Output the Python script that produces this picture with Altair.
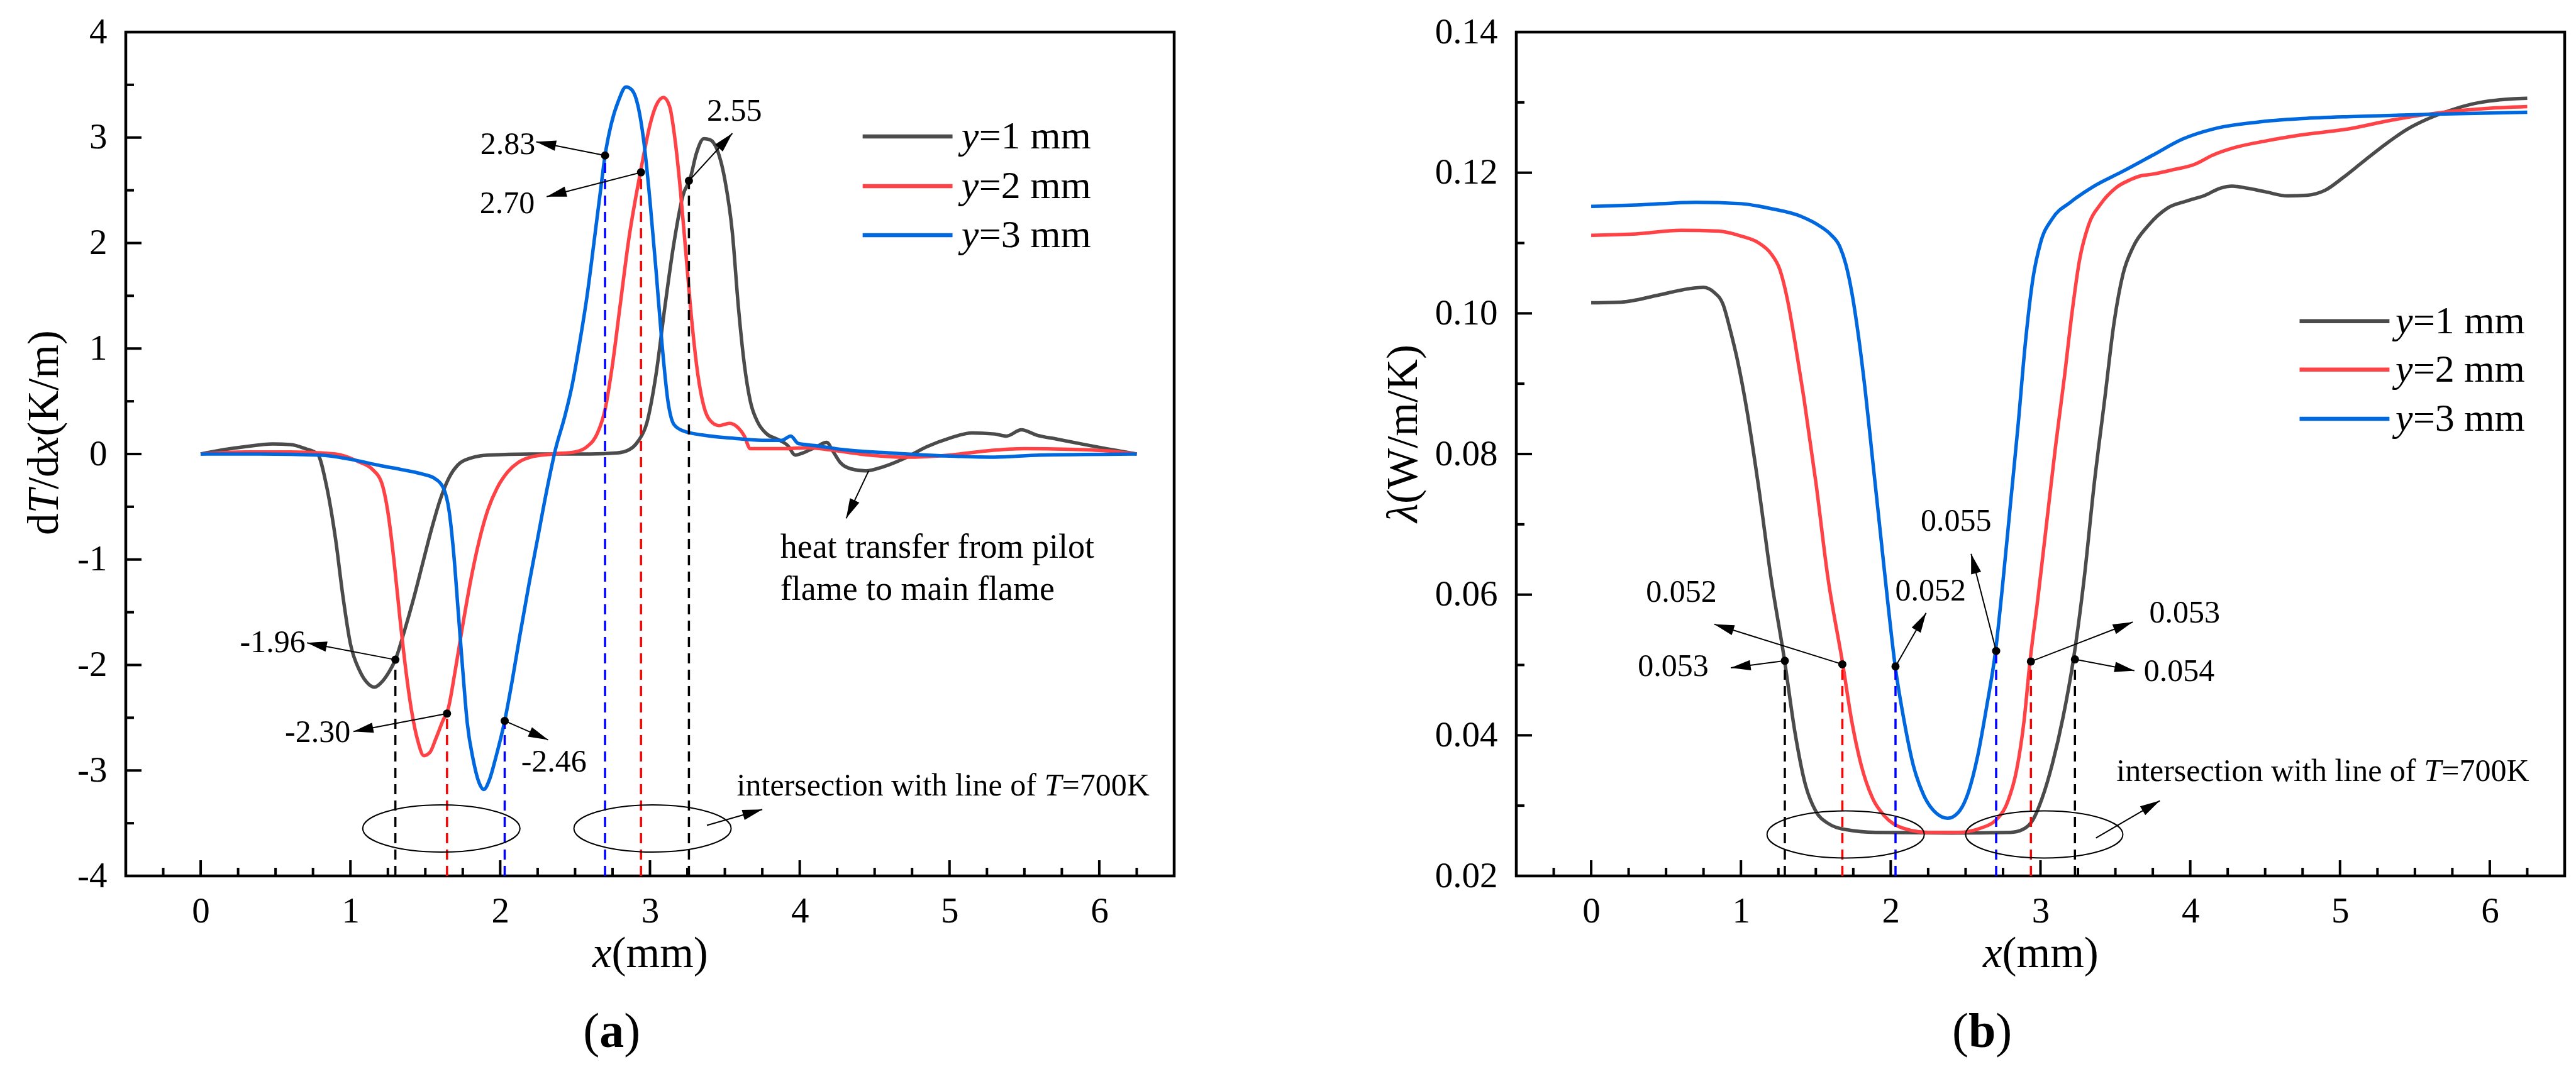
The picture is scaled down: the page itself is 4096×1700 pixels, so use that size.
import math

import altair as alt
import pandas as pd


FONT = "Liberation Serif"
W, H = 1667, 1342  # plot area of one panel, px
SERIES = ["y=1 mm", "y=2 mm", "y=3 mm"]
LINE_COLORS = ["#4B4B4B", "#FF4246", "#0068DE"]
DASH_COLORS = ["#000000", "#FF0000", "#0000FF"]
ARROW_HEAD = "M0,0L0.52,2L-0.52,2Z"
RING = ("M-1,0C-1,-0.166,-0.552,-0.3,0,-0.3C0.552,-0.3,1,-0.166,1,0"
        "C1,0.166,0.552,0.3,0,0.3C-0.552,0.3,-1,0.166,-1,0Z")

X_DOMAIN = [-0.5, 6.5]
X_MAJOR = [0, 1, 2, 3, 4, 5, 6]
X_MINOR = [q / 4 for q in range(-1, 26) if q % 4]

# ---- (a) temperature gradient dT/dx ----
A_X1 = [0.00, 0.15, 0.30, 0.48, 0.60, 0.70, 0.78, 0.84, 0.90, 0.95, 1.00, 1.06, 1.12, 1.16,
        1.21, 1.26, 1.30, 1.36, 1.42, 1.48, 1.54, 1.60, 1.66, 1.72, 1.80, 1.92, 2.20, 2.60,
        2.78, 2.86, 2.92, 2.98, 3.04, 3.10, 3.16, 3.22, 3.27, 3.31, 3.36, 3.40, 3.45, 3.50,
        3.55, 3.59, 3.63, 3.67, 3.72, 3.78, 3.85, 3.92, 3.97, 4.02, 4.10, 4.18, 4.22, 4.27,
        4.34, 4.44, 4.56, 4.70, 4.85, 5.00, 5.15, 5.30, 5.38, 5.48, 5.58, 5.72, 5.90, 6.05, 6.25]
A_Y1 = [0.00, 0.04, 0.07, 0.095, 0.09, 0.05, 0.00, -0.30, -0.80, -1.35, -1.80, -2.05, -2.18, -2.21,
        -2.16, -2.06, -1.95, -1.68, -1.38, -1.05, -0.72, -0.43, -0.22, -0.10, -0.04, -0.01, 0.00, 0.00,
        0.01, 0.04, 0.12, 0.30, 0.75, 1.40, 2.00, 2.45, 2.62, 2.85, 2.99, 2.98, 2.88, 2.60,
        2.10, 1.40, 0.85, 0.50, 0.30, 0.19, 0.14, 0.08, -0.01, 0.01, 0.06, 0.11, 0.03, -0.08,
        -0.14, -0.16, -0.12, -0.04, 0.07, 0.15, 0.20, 0.19, 0.17, 0.23, 0.18, 0.14, 0.09, 0.05, 0.00]
A_X2 = [0.00, 0.30, 0.60, 0.90, 1.05, 1.15, 1.21, 1.25, 1.29, 1.33, 1.37, 1.41, 1.45, 1.49,
        1.53, 1.57, 1.62, 1.65, 1.70, 1.75, 1.80, 1.86, 1.92, 1.98, 2.05, 2.12, 2.20, 2.35,
        2.50, 2.58, 2.65, 2.70, 2.75, 2.80, 2.86, 2.92, 2.96, 3.00, 3.04, 3.09, 3.13, 3.17,
        3.20, 3.24, 3.28, 3.32, 3.36, 3.40, 3.46, 3.53, 3.58, 3.63, 3.67, 3.75, 3.90, 4.05,
        4.20, 4.40, 4.70, 5.00, 5.25, 5.50, 5.80, 6.05, 6.25]
A_Y2 = [0.00, 0.02, 0.02, 0.00, -0.07, -0.15, -0.28, -0.55, -1.00, -1.55, -2.05, -2.45, -2.72, -2.86,
        -2.83, -2.70, -2.52, -2.43, -2.05, -1.62, -1.22, -0.82, -0.52, -0.32, -0.17, -0.08, -0.03, 0.00,
        0.02, 0.07, 0.20, 0.42, 0.85, 1.40, 2.05, 2.55, 2.85, 3.12, 3.30, 3.38, 3.30, 2.95,
        2.55, 1.90, 1.25, 0.75, 0.45, 0.32, 0.27, 0.29, 0.26, 0.17, 0.05, 0.05, 0.05, 0.06,
        0.04, 0.00, -0.03, -0.01, 0.03, 0.05, 0.045, 0.03, 0.00]
A_X3 = [0.00, 0.40, 0.80, 1.00, 1.20, 1.35, 1.48, 1.56, 1.62, 1.66, 1.69, 1.72, 1.75, 1.78,
        1.82, 1.86, 1.89, 1.93, 1.97, 2.03, 2.08, 2.13, 2.19, 2.25, 2.31, 2.37, 2.43, 2.48,
        2.53, 2.58, 2.63, 2.67, 2.70, 2.74, 2.79, 2.84, 2.88, 2.92, 2.96, 3.00, 3.04, 3.08,
        3.12, 3.16, 3.22, 3.35, 3.55, 3.75, 3.88, 3.94, 3.99, 4.10, 4.30, 4.60, 5.00, 5.30,
        5.60, 6.25]
A_Y3 = [0.00, 0.00, -0.01, -0.05, -0.11, -0.15, -0.19, -0.23, -0.32, -0.55, -0.95, -1.50, -2.05, -2.55,
        -2.90, -3.12, -3.18, -3.08, -2.88, -2.53, -2.15, -1.73, -1.25, -0.80, -0.35, 0.05, 0.35, 0.65,
        1.05, 1.50, 2.05, 2.50, 2.83, 3.12, 3.35, 3.48, 3.45, 3.30, 2.95, 2.40, 1.75, 1.05,
        0.50, 0.28, 0.22, 0.18, 0.15, 0.13, 0.13, 0.17, 0.10, 0.08, 0.04, 0.01, -0.02, -0.03,
        -0.01, 0.00]
A_Y_DOMAIN = [-4, 4]
A_Y_MAJOR = list(range(-4, 5))
A_Y_MINOR = [v + 0.5 for v in range(-4, 4)]

# intersections with the T=700K line (x, y, series index, printed value)
A_CUT_X = [1.30, 1.645, 2.03, 2.70, 2.94, 3.26]
A_CUT_Y = [-1.95, -2.46, -2.53, 2.83, 2.67, 2.59]
A_CUT_S = [0, 1, 2, 2, 1, 0]
A_CUT_LABEL = ["-1.96", "-2.30", "-2.46", "2.83", "2.70", "2.55"]

# ---- (b) thermal conductivity lambda ----
B_X1 = [0.00, 0.20, 0.45, 0.65, 0.75, 0.82, 0.88, 0.93, 0.98, 1.04, 1.12, 1.20, 1.29, 1.36,
        1.43, 1.50, 1.58, 1.70, 1.90, 2.40, 2.80, 2.88, 2.95, 3.01, 3.08, 3.15, 3.22, 3.29,
        3.36, 3.43, 3.49, 3.55, 3.62, 3.72, 3.85, 3.98, 4.10, 4.20, 4.28, 4.38, 4.50, 4.65,
        4.78, 4.90, 5.02, 5.15, 5.30, 5.45, 5.57, 5.70, 5.85, 6.00, 6.15, 6.25]
B_Y1 = [0.1015, 0.1016, 0.1026, 0.1035, 0.1037, 0.1030, 0.1013, 0.0975, 0.0930, 0.0862, 0.0750,
        0.0625, 0.0508, 0.0405, 0.0330, 0.0292, 0.0275, 0.0266, 0.0262, 0.0261, 0.0262, 0.0266,
        0.0280, 0.0310, 0.0360, 0.0425, 0.0508, 0.0620, 0.0760, 0.0880, 0.0985, 0.1055, 0.1095,
        0.1125, 0.1150, 0.1160, 0.1168, 0.1178, 0.1181, 0.1178, 0.1173, 0.1167, 0.1168, 0.1175,
        0.1193, 0.1215, 0.1240, 0.1262, 0.1275, 0.1286, 0.1296, 0.1302, 0.1305, 0.1306]
B_X2 = [0.00, 0.30, 0.60, 0.85, 1.00, 1.12, 1.20, 1.26, 1.31, 1.36, 1.42, 1.50, 1.58, 1.68,
        1.74, 1.80, 1.88, 1.96, 2.08, 2.25, 2.45, 2.60, 2.70, 2.78, 2.84, 2.89, 2.93, 2.98,
        3.04, 3.10, 3.16, 3.21, 3.26, 3.32, 3.40, 3.50, 3.60, 3.66, 3.75, 3.88, 4.03, 4.15,
        4.30, 4.50, 4.75, 5.05, 5.35, 5.65, 5.95, 6.25]
B_Y2 = [0.1111, 0.1113, 0.1118, 0.1117, 0.1110, 0.1100, 0.1085, 0.1062, 0.1020, 0.0960, 0.0880,
        0.0760, 0.0625, 0.0501, 0.0420, 0.0360, 0.0310, 0.0285, 0.0268, 0.0262, 0.0262, 0.0268,
        0.0279, 0.0305, 0.0350, 0.0420, 0.0505, 0.0590, 0.0700, 0.0810, 0.0910, 0.1000, 0.1075,
        0.1125, 0.1155, 0.1178, 0.1190, 0.1195, 0.1198, 0.1204, 0.1212, 0.1225, 0.1236, 0.1245,
        0.1254, 0.1262, 0.1275, 0.1285, 0.1291, 0.1294]
B_X3 = [0.00, 0.30, 0.70, 1.00, 1.20, 1.40, 1.52, 1.60, 1.66, 1.70, 1.74, 1.78, 1.83, 1.88,
        1.93, 1.98, 2.03, 2.09, 2.15, 2.22, 2.30, 2.38, 2.45, 2.52, 2.58, 2.64, 2.70, 2.75,
        2.80, 2.85, 2.90, 2.95, 3.00, 3.08, 3.20, 3.35, 3.55, 3.75, 3.95, 4.15, 4.45, 4.75,
        5.10, 5.60, 6.25]
B_Y3 = [0.1152, 0.1154, 0.1158, 0.1156, 0.1149, 0.1138, 0.1125, 0.1112, 0.1095, 0.1070, 0.1030,
        0.0975, 0.0890, 0.0790, 0.0690, 0.0590, 0.0498, 0.0420, 0.0358, 0.0315, 0.0290, 0.0282,
        0.0290, 0.0320, 0.0370, 0.0440, 0.0520, 0.0620, 0.0730, 0.0840, 0.0960, 0.1050, 0.1100,
        0.1135, 0.1158, 0.1180, 0.1202, 0.1225, 0.1248, 0.1262, 0.1272, 0.1277, 0.1280, 0.1283,
        0.1286]
B_Y_DOMAIN = [0.02, 0.14]
B_Y_MAJOR = [0.02, 0.04, 0.06, 0.08, 0.10, 0.12, 0.14]
B_Y_MINOR = [0.03, 0.05, 0.07, 0.09, 0.11, 0.13]

B_CUT_X = [1.293, 1.677, 2.032, 2.704, 2.936, 3.23]
B_CUT_Y = [0.0506, 0.0501, 0.0498, 0.0520, 0.0505, 0.0508]
B_CUT_S = [0, 1, 2, 2, 1, 0]
B_CUT_LABEL = ["0.053", "0.052", "0.052", "0.055", "0.053", "0.054"]


def word(t, x, y, size, **style):
    return {"t": t, "x": x, "y": y, "size": size, **style}


# annotation layout, in data units of each panel
A_NOTES = [(0.70, -1.79, "right"), (1.00, -2.64, "right"), (2.14, -2.92, "left"),
           (2.235, 2.93, "right"), (2.23, 2.37, "right"), (3.38, 3.25, "left")]
A_TIPS = [(0.71, -1.79), (1.02, -2.63), (2.32, -2.71), (2.24, 2.96), (2.31, 2.44), (3.55, 3.04)]
A_ARROWS = [(4.46, -0.16, 4.31, -0.61), (3.38, -3.52, 3.75, -3.37)]
A_RINGS = [(1.607, -3.55), (3.017, -3.55)]
A_LEGEND = (4.42, 5.02, 5.08, [3.01, 2.54, 2.075])
A_WORDS = [
    word("d", -0.9535, -0.769, 69, angle=270, baseline="alphabetic"),
    word("T", -0.9535, -0.769, 69, angle=270, baseline="alphabetic", dx=34.5, fontStyle="italic"),
    word("/d", -0.9535, -0.769, 69, angle=270, baseline="alphabetic", dx=72.9),
    word("x", -0.9535, -0.769, 69, angle=270, baseline="alphabetic", dx=126.6, fontStyle="italic"),
    word("(K/m)", -0.9535, -0.769, 69, angle=270, baseline="alphabetic", dx=157.2),
    word("x", 2.744, -4.864, 69, align="right", baseline="alphabetic", fontStyle="italic"),
    word("(mm)", 2.744, -4.864, 69, baseline="alphabetic"),
    word("(", 2.745, -5.621, 78, align="right", baseline="alphabetic", dx=-19.5),
    word("a", 2.745, -5.621, 78, align="center", baseline="alphabetic", fontWeight="bold"),
    word(")", 2.745, -5.621, 78, baseline="alphabetic", dx=19.5),
    word("heat transfer from pilot", 3.87, -0.886, 54),
    word("flame to main flame", 3.87, -1.29, 54),
    word("intersection with line of", 3.58, -3.15, 50),
    word("T", 3.58, -3.15, 50, dx=489, fontStyle="italic"),
    word("=700K", 3.58, -3.15, 50, dx=517),
]

B_NOTES = [(0.784, 0.0498, "right"), (0.838, 0.0603, "right"), (2.03, 0.0605, "left"),
           (2.20, 0.0704, "left"), (3.726, 0.0574, "left"), (3.69, 0.0491, "left")]
B_TIPS = [(0.932, 0.0496), (0.822, 0.0558), (2.236, 0.0574), (2.537, 0.0658),
          (3.616, 0.0561), (3.627, 0.0492)]
B_ARROWS = [(3.37, 0.0254, 3.797, 0.0307)]
B_RINGS = [(1.699, 0.0259), (3.025, 0.0259)]
B_LEGEND = (4.73, 5.33, 5.37, [0.0989, 0.0920, 0.0850])
B_WORDS = [
    word("λ", -1.1635, 0.07294, 69, angle=270, align="right", baseline="alphabetic",
         fontStyle="italic"),
    word("(W/m/K)", -1.1635, 0.07294, 69, angle=270, baseline="alphabetic"),
    word("x", 2.744, 0.00703, 69, align="right", baseline="alphabetic", fontStyle="italic"),
    word("(mm)", 2.744, 0.00703, 69, baseline="alphabetic"),
    word("(", 2.61, -0.00432, 78, align="right", baseline="alphabetic", dx=-21.7),
    word("b", 2.61, -0.00432, 78, align="center", baseline="alphabetic", fontWeight="bold"),
    word(")", 2.61, -0.00432, 78, baseline="alphabetic", dx=21.7),
    word("intersection with line of", 3.507, 0.0348, 50),
    word("T", 3.507, 0.0348, 50, dx=489, fontStyle="italic"),
    word("=700K", 3.507, 0.0348, 50, dx=517),
]


def panel(curves, ydom, ymajor, yminor, ylabels, cut, notes, tips, arrows, rings, legend, words):
    xs = alt.Scale(domain=X_DOMAIN, nice=False, zero=False)
    ys = alt.Scale(domain=ydom, nice=False, zero=False)
    colors = alt.Scale(domain=SERIES, range=LINE_COLORS)
    kx = W / (X_DOMAIN[1] - X_DOMAIN[0])
    ky = H / (ydom[1] - ydom[0])

    label_style = dict(domain=False, ticks=False, tickSize=0, grid=False, labelFont=FONT,
                       labelFontSize=57, labelColor="black", labelFlush=False, title=None)
    x_axis = alt.Axis(orient="bottom", values=X_MAJOR, labelPadding=28, **label_style)
    y_axis = alt.Axis(orient="left", values=ymajor, labelPadding=30, **ylabels, **label_style)

    # every layer carries the same axis so that the shared axis merges cleanly
    def px(f):
        return alt.X(f"{f}:Q", scale=xs, axis=x_axis)

    def py(f):
        return alt.Y(f"{f}:Q", scale=ys, axis=y_axis)

    df = pd.concat([pd.DataFrame({"x": cx, "y": cy, "s": name})
                    for (cx, cy), name in zip(curves, SERIES)])
    lines = alt.Chart(df).mark_line(strokeWidth=5.5, interpolate="monotone").encode(
        x=px("x"), y=py("y"), color=alt.Color("s:N", scale=colors, legend=None))

    # inward ticks on the bottom and left edges of the frame
    ticks = []
    for vals, length in ((X_MAJOR, 25), (X_MINOR, 13)):
        t = pd.DataFrame({"t": vals, "edge": ydom[0]})
        ticks.append(alt.Chart(t).mark_rule(color="black", strokeWidth=4, y2Offset=-length)
                     .encode(x=px("t"), y=py("edge"), y2="edge:Q"))
    for vals, length in ((ymajor, 25), (yminor, 13)):
        t = pd.DataFrame({"t": vals, "edge": X_DOMAIN[0]})
        ticks.append(alt.Chart(t).mark_rule(color="black", strokeWidth=4, x2Offset=length)
                     .encode(y=py("t"), x=px("edge"), x2="edge:Q"))

    cx, cy, cs, clab = cut
    cuts = pd.DataFrame({"x": cx, "y": cy, "s": cs, "y0": ydom[0]})
    dashes = [
        alt.Chart(cuts[cuts["s"] == i]).mark_rule(strokeWidth=3.5, strokeDash=[16, 10],
                                                  color=DASH_COLORS[i])
        .encode(x=px("x"), y=py("y0"), y2="y:Q")
        for i in range(len(SERIES))
    ]
    dots = alt.Chart(cuts).mark_point(filled=True, size=169, color="black", opacity=1).encode(
        x=px("x"), y=py("y"))

    arr = pd.DataFrame(
        [(x, y, tx, ty) for x, y, (tx, ty) in zip(cx, cy, tips)] + list(arrows),
        columns=["xf", "yf", "xt", "yt"])
    arr["ang"] = [(math.degrees(math.atan2((r.xt - r.xf) * kx, (r.yt - r.yf) * ky)) + 360) % 360
                  for r in arr.itertuples()]
    shafts = alt.Chart(arr).mark_rule(strokeWidth=2, color="black").encode(
        x=px("xf"), y=py("yf"), x2="xt:Q", y2="yt:Q")
    heads = alt.Chart(arr).mark_point(shape=ARROW_HEAD, size=1000, filled=True, color="black",
                                      opacity=1).encode(
        x=px("xt"), y=py("yt"), angle=alt.Angle("ang:Q", scale=None))

    ellipses = alt.Chart(pd.DataFrame(rings, columns=["x", "y"])).mark_point(
        shape=RING, size=62500, filled=False, color="black", strokeWidth=2, opacity=1
    ).encode(x=px("x"), y=py("y"))

    lx1, lx2, ltx, lys = legend
    leg = pd.DataFrame({"x": lx1, "x2": lx2, "tx": ltx, "y": lys, "s": SERIES,
                        "v": [s[0] for s in SERIES], "rest": [s[1:] for s in SERIES]})
    leg_lines = alt.Chart(leg).mark_rule(strokeWidth=6.5).encode(
        x=px("x"), x2="x2:Q", y=py("y"), color=alt.Color("s:N", scale=colors, legend=None))
    leg_var = alt.Chart(leg).mark_text(font=FONT, fontSize=62, fontStyle="italic", align="left",
                                       baseline="middle", color="black").encode(
        x=px("tx"), y=py("y"), text="v:N")
    leg_rest = alt.Chart(leg).mark_text(font=FONT, fontSize=62, align="left", dx=28,
                                        baseline="middle", color="black").encode(
        x=px("tx"), y=py("y"), text="rest:N")

    note_words = [word(t, x, y, 50, align=a) for t, (x, y, a) in zip(clab, notes)]
    texts = []
    for w in note_words + words:
        style = {k: v for k, v in w.items() if k not in ("t", "x", "y", "size")}
        style.setdefault("align", "left")
        style.setdefault("baseline", "middle")
        one = pd.DataFrame({"x": [w["x"]], "y": [w["y"]], "t": [w["t"]]})
        texts.append(alt.Chart(one).mark_text(font=FONT, fontSize=w["size"], color="black",
                                              **style).encode(x=px("x"), y=py("y"), text="t:N"))

    return alt.layer(lines, *ticks, *dashes, dots, shafts, heads, ellipses,
                     leg_lines, leg_var, leg_rest, *texts).properties(width=W, height=H)


left = panel([(A_X1, A_Y1), (A_X2, A_Y2), (A_X3, A_Y3)], A_Y_DOMAIN, A_Y_MAJOR, A_Y_MINOR,
             {"labelExpr": "'' + datum.value"},
             (A_CUT_X, A_CUT_Y, A_CUT_S, A_CUT_LABEL), A_NOTES, A_TIPS, A_ARROWS, A_RINGS,
             A_LEGEND, A_WORDS)
right = panel([(B_X1, B_Y1), (B_X2, B_Y2), (B_X3, B_Y3)], B_Y_DOMAIN, B_Y_MAJOR, B_Y_MINOR,
              {"format": ".2f"},
              (B_CUT_X, B_CUT_Y, B_CUT_S, B_CUT_LABEL), B_NOTES, B_TIPS, B_ARROWS, B_RINGS,
              B_LEGEND, B_WORDS)

chart = (
    alt.hconcat(left, right, spacing=325)
    .properties(padding={"left": 26, "top": 11, "right": 5, "bottom": 5})
    .configure_view(stroke="black", strokeWidth=4.5)
)

chart.save("out.html", embed_options={"renderer": "svg", "actions": False})
